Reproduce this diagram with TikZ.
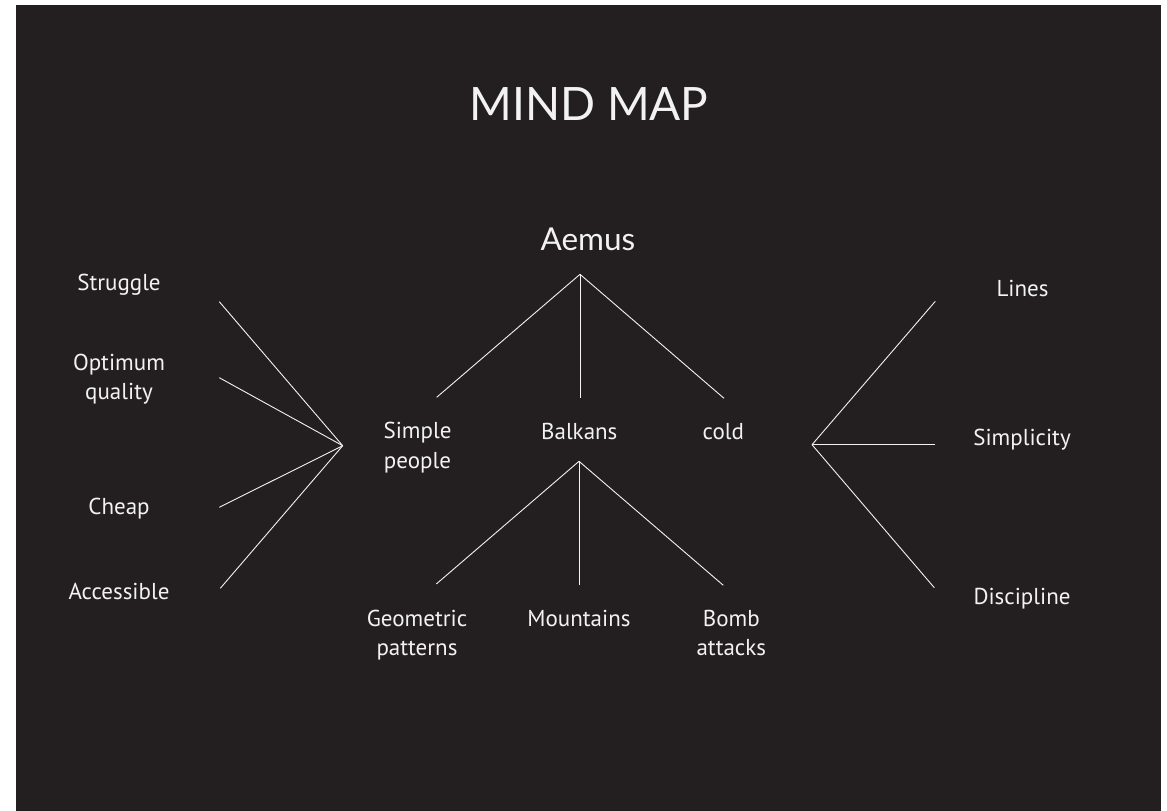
\documentclass[tikz,border=0pt]{standalone}
\usepackage{fontspec}
\setmainfont{PT Sans}
\newfontfamily\titlefont{Lato}
\definecolor{bg}{HTML}{231F20}
\definecolor{ink}{HTML}{F2F2F2}
\tikzset{
  lbl/.style={text=ink, inner sep=0pt, anchor=base, font=\fontsize{23}{29.5}\selectfont},
  link/.style={draw=ink, line width=0.9pt},
}
\newcommand{\twolines}[2]{\begin{tabular}[t]{@{}c@{}}#1\\#2\end{tabular}}
\begin{document}
\begin{tikzpicture}[x=1pt,y=-1pt]
\useasboundingbox (0,0) rectangle (1167,811);
\fill[white] (0,0) rectangle (1167,811);
\fill[bg] (16,5) rectangle (1161,811);

% titles
\node[text=ink, inner sep=0pt, anchor=base, font=\titlefont\fontsize{46}{50}\selectfont] (title) at (589,120.7) {MIND MAP};
\node[text=ink, inner sep=0pt, anchor=base, font=\titlefont\fontsize{31.5}{36}\selectfont] (aemus) at (588,250.7) {Aemus};

% left labels
\node[lbl] (struggle) at (119,290.7) {Struggle};
\node[lbl] (optimum) at (119,370) {\twolines{Optimum}{quality}};
\node[lbl] (cheap) at (119,514) {Cheap};
\node[lbl] (access) at (119,599) {Accessible};

% right labels
\node[lbl] (lines) at (1022.5,296.7) {Lines};
\node[lbl] (simplicity) at (1022,445) {Simplicity};
\node[lbl] (discipline) at (1022,604) {Discipline};

% middle labels
\node[lbl] (simple) at (417.5,438.7) {\twolines{Simple}{people}};
\node[lbl] (balkans) at (579.3,439) {Balkans};
\node[lbl] (cold) at (723.3,439) {cold};
\node[lbl] (geom) at (417,626) {\twolines{Geometric}{patterns}};
\node[lbl] (mount) at (579,626) {Mountains};
\node[lbl] (bomb) at (731.3,626) {\twolines{Bomb}{attacks}};

% hubs and line ends
\coordinate (hA) at (580,274.3);
\coordinate (a1) at (436.7,397.3);
\coordinate (a2) at (580,398.3);
\coordinate (a3) at (724,398.3);

\coordinate (hB) at (579,461.3);
\coordinate (b1) at (436.3,584);
\coordinate (b2) at (579,585.3);
\coordinate (b3) at (723.3,585.3);

\coordinate (hL) at (342.7,445.7);
\coordinate (l1) at (219.3,301.7);
\coordinate (l2) at (219.3,377.7);
\coordinate (l3) at (219.3,507.3);
\coordinate (l4) at (220.3,588.3);

\coordinate (hR) at (812,444.7);
\coordinate (r1) at (935.3,301.3);
\coordinate (r2) at (935.3,444.7);
\coordinate (r3) at (934.3,587.7);

\foreach \e in {a1,a2,a3} \draw[link] (hA) -- (\e);
\foreach \e in {b1,b2,b3} \draw[link] (hB) -- (\e);
\foreach \e in {l1,l2,l3,l4} \draw[link] (hL) -- (\e);
\foreach \e in {r1,r2,r3} \draw[link] (hR) -- (\e);
\end{tikzpicture}
\end{document}
